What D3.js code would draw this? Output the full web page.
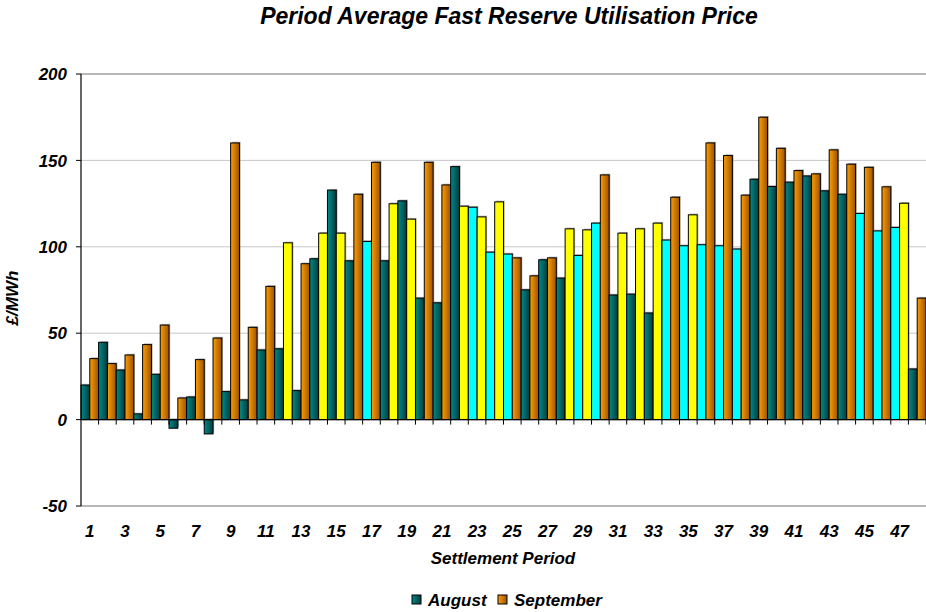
<!DOCTYPE html>
<html>
<head>
<meta charset="utf-8">
<script src="https://cdn.jsdelivr.net/npm/d3@7"></script>
<style>
  body { margin: 0; background: #fff; }
  svg text { font-family: "Liberation Sans", Arial, sans-serif; font-weight: bold; font-style: italic; }
</style>
</head>
<body>
<svg id="chart"></svg>
<script>
const periods = d3.range(1, 49);
const august = [20.0, 44.7, 28.7, 3.3, 26.2, -5.0, 13.1, -8.3, 16.2, 11.4,
  40.3, 41.0, 16.8, 93.1, 132.8, 91.9, 103.1, 91.9, 126.6, 70.3,
  67.6, 146.4, 122.9, 96.9, 95.8, 75.1, 92.5, 81.9, 95.0, 113.7,
  72.1, 72.6, 61.7, 103.9, 100.6, 101.2, 100.6, 98.7, 139.1, 134.9,
  137.4, 141.0, 132.4, 130.4, 119.3, 109.2, 111.2, 29.3];
const september = [35.3, 32.4, 37.4, 43.4, 54.7, 12.5, 34.7, 47.2, 160.1, 53.4,
  77.1, 102.3, 90.2, 107.9, 107.9, 130.4, 148.9, 124.9, 116.0, 148.9,
  135.8, 123.5, 117.3, 126.0, 93.6, 83.2, 93.6, 110.4, 109.8, 141.6,
  107.9, 110.4, 113.7, 128.7, 118.5, 160.1, 152.8, 129.9, 175.0, 157.0,
  144.1, 142.2, 156.1, 147.8, 146.0, 134.7, 125.2, 70.3];
// periods drawn in the highlight colour (cyan for August, yellow for September)
const augustHighlighted = [17, 23, 24, 25, 29, 30, 34, 35, 36, 37, 38, 45, 46, 47];
const septemberHighlighted = [12, 14, 15, 18, 19, 22, 23, 24, 28, 29, 31, 32, 33, 35, 47];
const yTicks = [-50, 0, 50, 100, 150, 200];
const seriesNames = ["August", "September"];

const width = 926, height = 612;
const margin = { top: 74, right: 0, bottom: 106, left: 81 };

const svg = d3.select("#chart").attr("width", width).attr("height", height);
const defs = svg.append("defs");

function hGrad(id, c1, c2) {
  const g = defs.append("linearGradient").attr("id", id)
    .attr("x1", "0%").attr("x2", "100%").attr("y1", "0%").attr("y2", "0%");
  g.append("stop").attr("offset", "0%").attr("stop-color", c1);
  g.append("stop").attr("offset", "100%").attr("stop-color", c2);
}
hGrad("gradAug", "#008a8a", "#003c3c");
hGrad("gradSep", "#ff9d00", "#9a5400");

const x = d3.scaleBand()
  .domain(periods)
  .range([margin.left, width - margin.right])
  .padding(0);

const xInner = d3.scaleBand()
  .domain(seriesNames)
  .range([0, x.bandwidth()])
  .padding(0);

const y = d3.scaleLinear()
  .domain([-50, 200])
  .range([height - margin.bottom, margin.top]);

// gridlines
svg.append("g")
  .selectAll("line")
  .data(yTicks.filter(d => d !== 0))
  .join("line")
  .attr("x1", margin.left).attr("x2", width - margin.right)
  .attr("y1", d => y(d)).attr("y2", d => y(d))
  .attr("stroke", d => (d === 200 || d === -50) ? "#a0a0a0" : "#c8c8c8")
  .attr("stroke-width", d => (d === 200 || d === -50) ? 1.5 : 1);

const rows = periods.map((p, i) => [
  { period: p, series: "August", value: august[i], hi: augustHighlighted.includes(p) },
  { period: p, series: "September", value: september[i], hi: septemberHighlighted.includes(p) }
]).flat();

function fillOf(d) {
  if (d.series === "August") return d.hi ? "#00ffff" : "url(#gradAug)";
  return d.hi ? "#ffff00" : "url(#gradSep)";
}

const bars = svg.append("g");

// soft shadow
bars.selectAll("rect.shadow")
  .data(rows)
  .join("rect")
  .attr("class", "shadow")
  .attr("x", d => x(d.period) + xInner(d.series) + 1.2)
  .attr("y", d => Math.min(y(d.value), y(0)) - 1.2)
  .attr("width", xInner.bandwidth())
  .attr("height", d => Math.abs(y(d.value) - y(0)))
  .attr("fill", "#7a7a7a")
  .attr("opacity", 0.6);

bars.selectAll("rect.bar")
  .data(rows)
  .join("rect")
  .attr("class", "bar")
  .attr("x", d => x(d.period) + xInner(d.series))
  .attr("y", d => Math.min(y(d.value), y(0)))
  .attr("width", xInner.bandwidth())
  .attr("height", d => Math.abs(y(d.value) - y(0)))
  .attr("fill", fillOf)
  .attr("stroke", "#000")
  .attr("stroke-width", 1);

// y axis
svg.append("line")
  .attr("x1", margin.left).attr("x2", margin.left)
  .attr("y1", y(200)).attr("y2", y(-50))
  .attr("stroke", "#000").attr("stroke-width", 1.2);

const yAxis = svg.append("g");
yAxis.selectAll("line")
  .data(yTicks)
  .join("line")
  .attr("x1", margin.left - 5).attr("x2", margin.left)
  .attr("y1", d => y(d)).attr("y2", d => y(d))
  .attr("stroke", "#000");
yAxis.selectAll("text")
  .data(yTicks)
  .join("text")
  .attr("x", margin.left - 14)
  .attr("y", d => y(d))
  .attr("dy", "0.36em")
  .attr("text-anchor", "end")
  .style("font-size", "17px")
  .text(d => d);

// x axis at zero
svg.append("line")
  .attr("x1", margin.left).attr("x2", width - margin.right)
  .attr("y1", y(0)).attr("y2", y(0))
  .attr("stroke", "#000").attr("stroke-width", 1.2);

svg.append("g")
  .selectAll("line")
  .data(periods)
  .join("line")
  .attr("x1", d => x(d) + x.bandwidth()).attr("x2", d => x(d) + x.bandwidth())
  .attr("y1", y(0)).attr("y2", y(0) + 5)
  .attr("stroke", "#000");

svg.append("g")
  .selectAll("text")
  .data(periods.filter(p => p % 2 === 1))
  .join("text")
  .attr("x", d => x(d) + x.bandwidth() / 2)
  .attr("y", 531)
  .attr("dy", "0.36em")
  .attr("text-anchor", "middle")
  .style("font-size", "17px")
  .text(d => d);

// titles
svg.append("text")
  .attr("x", 509).attr("y", 24)
  .attr("text-anchor", "middle")
  .style("font-size", "23px")
  .text("Period Average Fast Reserve Utilisation Price");

svg.append("text")
  .attr("x", 503).attr("y", 564)
  .attr("text-anchor", "middle")
  .style("font-size", "17px")
  .text("Settlement Period");

svg.append("text")
  .attr("transform", "rotate(-90)")
  .attr("x", -298).attr("y", 18)
  .attr("text-anchor", "middle")
  .style("font-size", "17px")
  .text("£/MWh");

// legend
const legend = svg.append("g").attr("transform", "translate(412, 600)");
const legendX = [0, 86];
const legendFill = ["url(#gradAug)", "url(#gradSep)"];
seriesNames.forEach((name, i) => {
  legend.append("rect")
    .attr("x", legendX[i]).attr("y", -5)
    .attr("width", 9).attr("height", 9)
    .attr("fill", legendFill[i])
    .attr("stroke", "#000");
  legend.append("text")
    .attr("x", legendX[i] + 16).attr("y", 0)
    .attr("dy", "0.36em")
    .style("font-size", "17px")
    .text(name);
});
</script>
</body>
</html>
